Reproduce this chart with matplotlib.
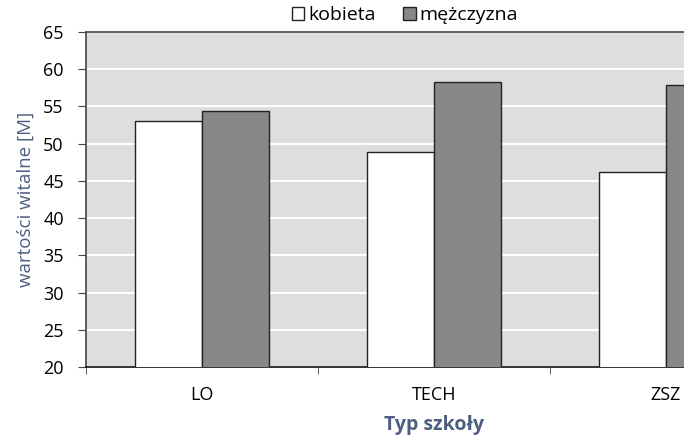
import matplotlib
matplotlib.use("Agg")
import matplotlib.pyplot as plt
import matplotlib.patches as mpatches
import numpy as np

plt.rcParams['font.family'] = ['Open Sans', 'DejaVu Sans']

categories = ["LO", "TECH", "ZSZ"]
kobieta = [53.0, 48.9, 46.2]
mezczyzna = [54.4, 58.3, 57.9]

fig = plt.figure(figsize=(6.84, 4.40), dpi=100)
ax = fig.add_axes([86 / 684, 73 / 440, 598 / 684, 335 / 440])
ax.set_facecolor("#dedede")

x = np.arange(len(categories))
w = 0.289
ax.bar(x - w / 2, kobieta, w, color="white", edgecolor="#222222", linewidth=1, zorder=3)
ax.bar(x + w / 2, mezczyzna, w, color="#888888", edgecolor="#222222", linewidth=1, zorder=3)

ax.set_ylim(20, 65)
ax.set_xlim(-0.5, 2.078)
ax.set_yticks(np.arange(20, 66, 5))
ax.yaxis.grid(True, color="white", linewidth=1.5, zorder=0)
ax.set_axisbelow(True)

ax.set_xticks(x)
ax.set_xticklabels(categories)
ax.set_xticks([-0.5, 0.5, 1.5], minor=True)
ax.tick_params(axis="x", which="major", length=0, pad=14, labelsize=13)
ax.tick_params(axis="x", which="minor", length=5, direction="out", color="#444444")
ax.tick_params(axis="y", length=6, pad=10, labelsize=13, color="#444444")

for side in ["left", "top", "bottom"]:
    ax.spines[side].set_color("#444444")
    ax.spines[side].set_linewidth(1.2)
ax.spines["bottom"].set_color("#111111")
ax.spines["right"].set_visible(False)

label_color = "#4d5f7e"
ax.set_ylabel("wartości witalne [M]", color=label_color, fontsize=13.5, labelpad=6)
fig.text(434 / 684, 1 - 425 / 440, "Typ szkoły", color=label_color, fontsize=14,
         fontweight="bold", ha="center", va="center")

handles = [mpatches.Patch(facecolor="white", edgecolor="#222222", label="kobieta"),
           mpatches.Patch(facecolor="#888888", edgecolor="#222222", label="mężczyzna")]
fig.legend(handles=handles, loc="center", bbox_to_anchor=(405 / 684, 1 - 15 / 440), ncol=2,
           frameon=False, fontsize=14, handlelength=0.65, handleheight=0.65,
           handletextpad=0.2, columnspacing=1.4)

fig.savefig("out.png", dpi=100)
